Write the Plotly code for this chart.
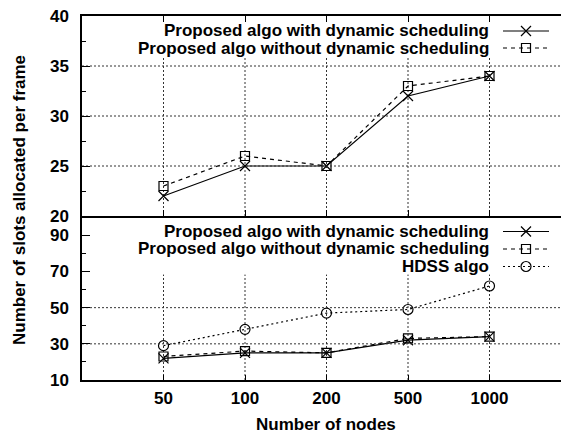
import plotly.graph_objects as go

# ---- data -------------------------------------------------------------
nodes = ["50", "100", "200", "500", "1000"]
with_dyn = [22, 25, 25, 32, 34]
without_dyn = [23, 26, 25, 33, 34]
hdss = [29, 38, 47, 49, 62]

series_names = [
    "Proposed algo with dynamic scheduling",
    "Proposed algo without dynamic scheduling",
    "HDSS algo",
]

top_ticks = [20, 25, 30, 35, 40]
bottom_ticks = [10, 30, 50, 70, 90]

# ---- geometry / style -------------------------------------------------
W, H = 561, 434
ML, MR, MT, MB = 82, 0, 16, 54
PLOT_TOP, PLOT_BOT = MT, H - MB          # 16 .. 380 px
SPLIT = 216                               # boundary between panels (px)

FONT = dict(family="Liberation Sans, Arial, sans-serif", size=17,
            color="black", weight="bold")
GRID_LINE = dict(color="#333", width=1, dash="2px,2px")

styles = [
    dict(dash="solid", symbol="x-thin-open", size=10),
    dict(dash="4px,4px", symbol="square-open", size=9),
    dict(dash="2px,3px", symbol="circle-open", size=10),
]

TOP_RANGE = [20, 40]
BOTTOM_RANGE = [10, 100.7]
TOP_KEY_FLOOR = 36        # key area of the upper panel starts here
BOTTOM_KEY_FLOOR = 68.3   # key area of the lower panel starts here


def py(px):
    """pixel row -> paper y"""
    return (PLOT_BOT - px) / (PLOT_BOT - PLOT_TOP)


def px_x(px):
    """pixel column -> paper x"""
    return (px - ML) / (W - ML - MR)


bottom_dom = [0, py(SPLIT)]
top_dom = [py(SPLIT), 1]
x_range = [-1, -1 + (W - ML - MR) / 81.5]


def row_to_value(px, dom, rng):
    """pixel row inside a panel -> that panel's y value"""
    frac = (py(px) - dom[0]) / (dom[1] - dom[0])
    return rng[0] + frac * (rng[1] - rng[0])


fig = go.Figure()

# ---- dotted grid, kept clear of the key area --------------------------
panels = [
    # category x, pixel x, y axis, ticks, range, key floor
    ("x2", "x4", "y2", top_ticks, TOP_RANGE, TOP_KEY_FLOOR),
    ("x", "x5", "y", bottom_ticks, BOTTOM_RANGE, BOTTOM_KEY_FLOOR),
]
for cat_x, pix_x, ya, ticks, rng, floor in panels:
    for node in nodes:
        fig.add_trace(go.Scatter(
            x=[node, node], y=[rng[0], floor], xaxis=cat_x, yaxis=ya,
            mode="lines", line=GRID_LINE, showlegend=False,
            hoverinfo="skip",
        ))
    for t in ticks:
        if rng[0] < t < floor:
            fig.add_trace(go.Scatter(
                x=[ML, W - MR], y=[t, t], xaxis=pix_x, yaxis=ya,
                mode="lines", line=GRID_LINE, showlegend=False,
                hoverinfo="skip",
            ))


def add_series(xa, ya, values, k):
    st = styles[k]
    fig.add_trace(go.Scatter(
        x=nodes, y=values, xaxis=xa, yaxis=ya, mode="lines+markers",
        name=series_names[k], showlegend=False,
        line=dict(color="black", width=1.2, dash=st["dash"]),
        marker=dict(symbol=st["symbol"], size=st["size"], color="black",
                    line=dict(color="black", width=1.2)),
    ))


# upper panel
add_series("x2", "y2", with_dyn, 0)
add_series("x2", "y2", without_dyn, 1)
# lower panel
add_series("x", "y", with_dyn, 0)
add_series("x", "y", without_dyn, 1)
add_series("x", "y", hdss, 2)

# ---- key (text right-aligned, sample to its right) --------------------
KEY_TEXT_RIGHT = 491
KEY_LINE = (503, 549)
KEY_MARK = 526
key_rows = [
    ("x4", "y2", top_dom, TOP_RANGE, [(0, 31), (1, 48)]),
    ("x5", "y", bottom_dom, BOTTOM_RANGE,
     [(0, 231.5), (1, 249), (2, 266.5)]),
]
annotations = []
for xa, ya, dom, rng, rows in key_rows:
    for k, row in rows:
        st = styles[k]
        yv = row_to_value(row, dom, rng)
        fig.add_trace(go.Scatter(
            x=list(KEY_LINE), y=[yv, yv], xaxis=xa, yaxis=ya, mode="lines",
            showlegend=False, hoverinfo="skip",
            line=dict(color="black", width=1.2, dash=st["dash"]),
        ))
        fig.add_trace(go.Scatter(
            x=[KEY_MARK], y=[yv], xaxis=xa, yaxis=ya, mode="markers",
            showlegend=False, hoverinfo="skip",
            marker=dict(symbol=st["symbol"], size=st["size"], color="black",
                        line=dict(color="black", width=1.2)),
        ))
        annotations.append(dict(
            x=px_x(KEY_TEXT_RIGHT), y=py(row), xref="paper", yref="paper",
            text=series_names[k], showarrow=False,
            xanchor="right", yanchor="middle", font=FONT,
        ))

# axis titles
annotations.append(dict(
    x=px_x(19), y=py(200), xref="paper", yref="paper",
    text="Number of slots allocated per frame", textangle=-90,
    showarrow=False, xanchor="center", yanchor="middle", font=FONT,
))
annotations.append(dict(
    x=px_x(326), y=py(424), xref="paper", yref="paper",
    text="Number of nodes", showarrow=False,
    xanchor="center", yanchor="middle", font=FONT,
))

axis_common = dict(
    showline=True, linecolor="black", linewidth=1.5,
    ticks="inside", tickcolor="black", tickwidth=1,
    showgrid=False, zeroline=False, tickfont=FONT,
)
pixel_axis = dict(range=[ML, W - MR], visible=False, fixedrange=True)

fig.update_layout(
    width=W, height=H,
    margin=dict(l=ML, r=MR, t=MT, b=MB, pad=0),
    paper_bgcolor="white", plot_bgcolor="rgba(0,0,0,0)",
    showlegend=False,
    xaxis=dict(axis_common, type="category", categoryorder="array",
               categoryarray=nodes, domain=[0, 1], anchor="y",
               range=x_range, ticklen=5, mirror=False,
               ticklabelstandoff=2),
    xaxis2=dict(axis_common, type="category", categoryorder="array",
                categoryarray=nodes, domain=[0, 1], anchor="y2",
                range=x_range, ticklen=6, mirror="ticks",
                showticklabels=False),
    yaxis=dict(axis_common, domain=bottom_dom, anchor="x",
               range=BOTTOM_RANGE, tickvals=bottom_ticks, ticklen=8,
               minor=dict(ticks="inside", dtick=10, tick0=10, ticklen=4,
                          tickcolor="black", showgrid=False),
               ticklabelstandoff=8),
    yaxis2=dict(axis_common, domain=top_dom, anchor="x2",
                range=TOP_RANGE, tickvals=top_ticks, ticklen=8,
                minor=dict(ticks="inside", dtick=2.5, tick0=20, ticklen=4,
                           tickcolor="black", showgrid=False),
                ticklabelstandoff=8),
    xaxis4=dict(pixel_axis, overlaying="x2", anchor="y2"),
    xaxis5=dict(pixel_axis, overlaying="x", anchor="y"),
    annotations=annotations,
)

fig.write_html("out.html")
